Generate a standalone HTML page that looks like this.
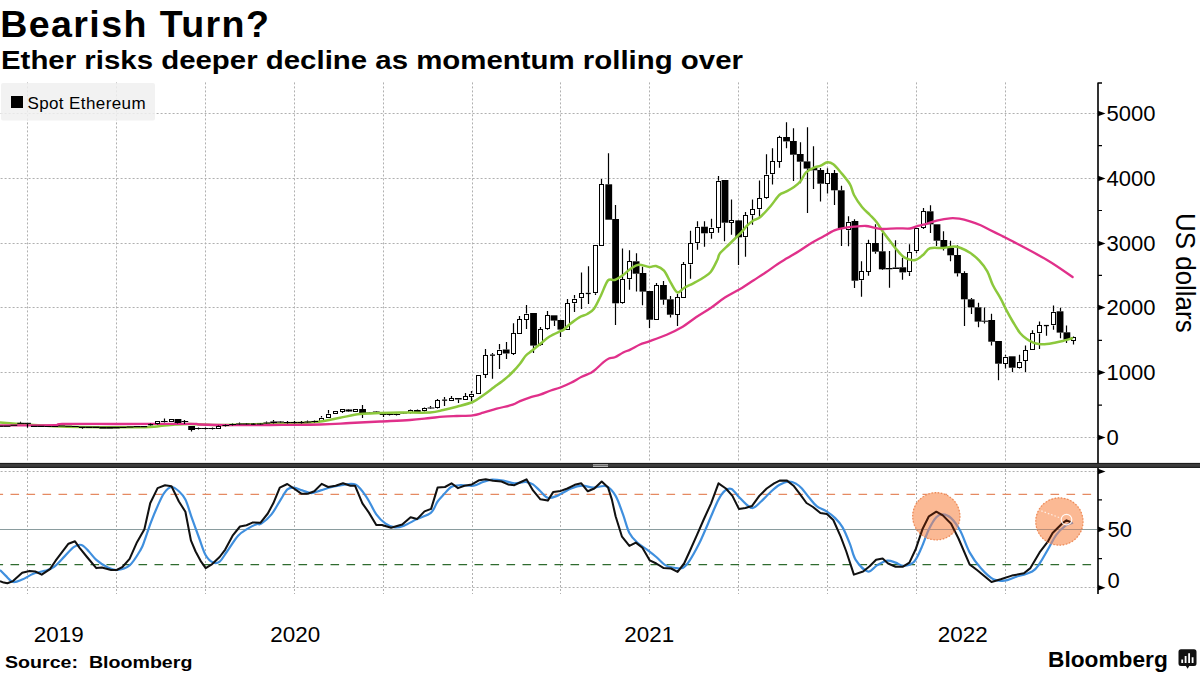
<!DOCTYPE html>
<html><head><meta charset="utf-8"><style>
html,body{margin:0;padding:0;background:#fff;}
body{width:1200px;height:675px;position:relative;overflow:hidden;font-family:"Liberation Sans",sans-serif;color:#000;}
.t{position:absolute;white-space:nowrap;line-height:1;transform-origin:0 0;}
.rot{position:absolute;white-space:nowrap;line-height:1;}
</style></head><body>
<svg width="1200" height="675" viewBox="0 0 1200 675" style="position:absolute;left:0;top:0">
<path d="M27.5 82.4V462M116.5 82.4V462M205.5 82.4V462M294.5 82.4V462M383.5 82.4V462M472.5 82.4V462M560.5 82.4V462M649.5 82.4V462M738.5 82.4V462M827.5 82.4V462M916.5 82.4V462M1005.5 82.4V462" stroke="#b0b0b0" stroke-width="1" stroke-dasharray="2 2" fill="none"/>
<path d="M0 113.5H1097M0 178.5H1097M0 243.5H1097M0 307.5H1097M0 372.5H1097M0 437.5H1097" stroke="#b0b0b0" stroke-width="1" stroke-dasharray="2 2" stroke-dashoffset="3.4" fill="none"/>
<path d="M27.5 469V594M116.5 469V594M205.5 469V594M294.5 469V594M383.5 469V594M472.5 469V594M560.5 469V594M649.5 469V594M738.5 469V594M827.5 469V594M916.5 469V594M1005.5 469V594" stroke="#b0b0b0" stroke-width="1" stroke-dasharray="2 2" fill="none"/>
<path d="M0 471.5H1097M0 587.5H1097" stroke="#b0b0b0" stroke-width="1" stroke-dasharray="2 2" stroke-dashoffset="3.4" fill="none"/>
<rect x="1" y="83" width="154" height="37.5" rx="2" fill="#f0f0f0" fill-opacity="0.85"/>
<path d="M0 494.3H1092" stroke="#e58a62" stroke-width="1.2" stroke-dasharray="8.6 7.4" stroke-dashoffset="5.5" fill="none"/>
<path d="M0 564.6H1092" stroke="#2f6b2f" stroke-width="1.2" stroke-dasharray="8.6 7.4" stroke-dashoffset="5.5" fill="none"/>
<path d="M0 529.5H1097" stroke="#8a9c9e" stroke-width="1" fill="none"/>
<path d="M321.5 416V417.5M321.5 421.5V422M328.5 410V413.5M328.5 417.5V418M335.5 411V411.5M335.5 413.5V414M342.5 409V409.5M342.5 411.5V413M348.5 409V409.5M348.5 411.5V412M355.5 409V409.5M355.5 411.5V412M362.5 405V409M362.5 414V418M369.5 412V412.5M369.5 413.5V414M376.5 411V411.5M376.5 412.5V413M383.5 415V417M389.5 413.5V414M389.5 415V415.5M396.5 413.5V414M396.5 415V415.5M403.5 412V412.5M403.5 413.5V414M410.5 409.5V410M410.5 413V413.5M417.5 409.5V410M417.5 412V412.5M424.5 407.5V408M424.5 411V411.5M430.5 406V407.5M430.5 408.5V409M437.5 399V400M437.5 408.4V409M444.5 397V399.5M444.5 400.5V406M451.5 396V398M451.5 400.5V401M458.5 399.5V403M465.5 393V396M465.5 399.5V400M471.5 391V393.5M471.5 396.5V401M478.5 393.5V394M485.5 349V355M485.5 375V378M492.5 353V354.5M492.5 355.5V378.7M499.5 344V349.5M499.5 355V369M506.5 342V349.5M506.5 353.5V359M513.5 323.3V333M513.5 353.5V355M519.5 316V319.3M526.5 305V313.6M526.5 319.6V329M533.5 345.6V353M540.5 327V329.3M540.5 345.3V346M547.5 311V315.3M547.5 329.3V330M554.5 320.6V326M560.5 329.6V337M567.5 299V303.3M567.5 329.6V330M574.5 295V298.6M574.5 303.3V312M581.5 272.4V293.3M581.5 298.3V309M588.5 266.3V292.8M588.5 293.8V304M595.5 293.3V295M601.5 179V184.3M608.5 153.3V184.3M615.5 205V219M615.5 303.3V325M622.5 248.4V279.3M622.5 303.3V304M629.5 250.3V261.3M629.5 279.3V289.7M636.5 253.3V261.3M636.5 273.7V291.6M642.5 266.7V273M642.5 291.6V305.3M649.5 319.7V328M656.5 283V285.3M656.5 319.6V320M663.5 281V285M663.5 299.7V304.7M670.5 296V299.3M670.5 314.7V317.6M677.5 294V297.3M677.5 314.7V326M683.5 262V264M683.5 297.6V298M690.5 230.7V243.3M690.5 264.4V278.7M697.5 221.3V226.7M697.5 243.3V249.7M704.5 221.3V226.7M704.5 233.3V246.7M711.5 218.7V227.6M711.5 233.3V238.7M718.5 176V180.7M718.5 227.6V232.7M724.5 222.7V241.3M731.5 199.6V220.4M731.5 222.3V234.7M738.5 220V220.4M738.5 237.3V265M745.5 212V215.3M745.5 237.3V256.7M752.5 199.6V209.3M752.5 215.3V224.7M759.5 180.5V198.3M759.5 209.3V218M766.5 154.3V174.5M766.5 198.3V199M772.5 148.3V161.4M772.5 174.3V184.5M779.5 135.7V137.4M779.5 161.7V167.7M786.5 122.3V137M786.5 141.4V148.3M793.5 128.3V141M793.5 154.7V181M800.5 142.3V154M800.5 161.7V183.3M807.5 127.3V161.4M807.5 168.6V213M813.5 146.3V168M813.5 170.3V189M820.5 168V170M820.5 183.7V201.4M827.5 168.3V173.4M827.5 183.7V193.4M834.5 170V173M834.5 190.3V205M841.5 185.7V190.3M841.5 228.3V246M848.5 216.3V221.7M848.5 230.3V246.3M854.5 219.3V221M854.5 280.7V288M861.5 261.3V271.3M861.5 280.3V296.7M868.5 239.7V243.3M868.5 271.6V275.7M875.5 224.3V243M875.5 251.7V253.7M882.5 233V251.3M882.5 269.3V270M889.5 251V268M889.5 269.3V287.7M895.5 240.3V267.5M902.5 257.7V267.3M902.5 272.4V279.7M909.5 244.3V251.7M909.5 272.3V276M916.5 251.3V253.3M923.5 208V211.3M923.5 227.7V229M930.5 205.3V211.3M930.5 224.3V233M936.5 240.7V246M943.5 231.3V240M943.5 247V250.4M950.5 240.7V248M950.5 255.3V261.3M957.5 245.3V255M957.5 273.3V276.5M964.5 271.3V273M964.5 299.3V326M971.5 298V299.3M971.5 307.3V314M978.5 302.7V307.3M978.5 321.6V327.3M984.5 307.5V320.7M984.5 321.6V323.5M991.5 313.7V320M991.5 341.7V345.4M998.5 363.7V380.3M1005.5 354.7V356.6M1005.5 363.7V368.6M1012.5 367.7V372M1019.5 354.7V361.7M1019.5 367.7V368.6M1025.5 345.4V350.3M1025.5 361V372M1032.5 330.3V333.4M1039.5 321.4V325.4M1039.5 333.4V349M1046.5 325.9V335.7M1053.5 305.4V311.7M1053.5 325.4V329.7M1060.5 307.7V311.3M1060.5 332.6V338.3M1066.5 325.4V332.3M1066.5 339.7V343M1073.5 336V336.6M1073.5 341V344.6" stroke="#000" stroke-width="1.2" fill="none"/>
<g fill="#000"><rect x="345.51" y="409.5" width="6.8" height="2"/><rect x="359.18" y="409" width="6.8" height="5"/><rect x="366.02" y="412.5" width="6.8" height="1"/><rect x="372.86" y="411.5" width="6.8" height="1"/><rect x="379.7" y="414" width="6.8" height="1"/><rect x="386.54" y="414" width="6.8" height="1"/><rect x="393.37" y="414" width="6.8" height="1"/><rect x="400.21" y="412.5" width="6.8" height="1"/><rect x="413.89" y="410" width="6.8" height="2"/><rect x="427.56" y="407.5" width="6.8" height="1"/><rect x="442.14" y="399.5" width="5" height="1.3"/><rect x="454.92" y="398" width="6.8" height="1.5"/><rect x="490.01" y="354.5" width="5" height="1.3"/><rect x="502.78" y="349.5" width="6.8" height="4"/><rect x="530.13" y="313" width="6.8" height="32.6"/><rect x="550.65" y="315.3" width="6.8" height="5.3"/><rect x="557.49" y="320" width="6.8" height="9.6"/><rect x="585.74" y="292.8" width="5" height="1.3"/><rect x="605.35" y="184.3" width="6.8" height="35.4"/><rect x="612.19" y="219" width="6.8" height="84.3"/><rect x="632.7" y="261.3" width="6.8" height="12.4"/><rect x="639.54" y="273" width="6.8" height="18.6"/><rect x="646.38" y="291" width="6.8" height="28.7"/><rect x="660.06" y="285" width="6.8" height="14.7"/><rect x="666.89" y="299.3" width="6.8" height="15.4"/><rect x="701.08" y="226.7" width="6.8" height="6.6"/><rect x="721.6" y="180" width="6.8" height="42.7"/><rect x="735.27" y="220.4" width="6.8" height="16.9"/><rect x="783.14" y="137" width="6.8" height="4.4"/><rect x="789.98" y="141" width="6.8" height="13.7"/><rect x="796.82" y="154" width="6.8" height="7.7"/><rect x="803.65" y="161.4" width="6.8" height="7.2"/><rect x="810.49" y="168" width="6.8" height="2.3"/><rect x="817.33" y="170" width="6.8" height="13.7"/><rect x="831.01" y="173" width="6.8" height="17.3"/><rect x="837.84" y="190.3" width="6.8" height="38"/><rect x="851.52" y="221" width="6.8" height="59.7"/><rect x="872.03" y="243" width="6.8" height="8.7"/><rect x="878.87" y="251.3" width="6.8" height="18"/><rect x="885.71" y="268" width="6.8" height="1.3"/><rect x="892.55" y="267.5" width="6.8" height="1.5"/><rect x="899.39" y="267.3" width="6.8" height="5.1"/><rect x="926.74" y="211.3" width="6.8" height="13"/><rect x="933.58" y="224.3" width="6.8" height="16.4"/><rect x="940.41" y="240" width="6.8" height="7"/><rect x="947.25" y="248" width="6.8" height="7.3"/><rect x="954.09" y="255" width="6.8" height="18.3"/><rect x="960.93" y="273" width="6.8" height="26.3"/><rect x="967.77" y="299.3" width="6.8" height="8"/><rect x="974.6" y="307.3" width="6.8" height="14.3"/><rect x="981.44" y="320.7" width="6.8" height="1"/><rect x="988.28" y="320" width="6.8" height="21.7"/><rect x="995.12" y="341" width="6.8" height="22.7"/><rect x="1008.79" y="356.3" width="6.8" height="11.4"/><rect x="1043.88" y="324.9" width="5" height="1.3"/><rect x="1056.66" y="311.3" width="6.8" height="21.3"/><rect x="1063.5" y="332.3" width="6.8" height="7.4"/></g>
<g fill="#fff" stroke="#000" stroke-width="1"><rect x="319.5" y="418.5" width="4" height="3"/><rect x="326.5" y="414.5" width="4" height="3"/><rect x="333.5" y="411.5" width="4" height="2"/><rect x="340.5" y="409.5" width="4" height="2"/><rect x="353.5" y="409.5" width="4" height="2"/><rect x="408.5" y="410.5" width="4" height="2"/><rect x="422.5" y="408.5" width="4" height="2"/><rect x="435.5" y="400.5" width="4" height="7"/><rect x="449.5" y="398.5" width="4" height="2"/><rect x="463.5" y="396.5" width="4" height="3"/><rect x="469.5" y="394.5" width="4" height="2"/><rect x="476.5" y="375.5" width="4" height="18"/><rect x="483.5" y="355.5" width="4" height="19"/><rect x="497.5" y="350.5" width="4" height="4"/><rect x="511.5" y="333.5" width="4" height="20"/><rect x="517.5" y="319.5" width="4" height="14"/><rect x="524.5" y="314.5" width="4" height="5"/><rect x="538.5" y="329.5" width="4" height="15"/><rect x="545.5" y="315.5" width="4" height="13"/><rect x="565.5" y="303.5" width="4" height="26"/><rect x="572.5" y="299.5" width="4" height="3"/><rect x="579.5" y="293.5" width="4" height="4"/><rect x="593.5" y="245.5" width="4" height="47"/><rect x="599.5" y="184.5" width="4" height="61"/><rect x="620.5" y="279.5" width="4" height="23"/><rect x="627.5" y="261.5" width="4" height="17"/><rect x="654.5" y="285.5" width="4" height="34"/><rect x="675.5" y="297.5" width="4" height="17"/><rect x="681.5" y="264.5" width="4" height="33"/><rect x="688.5" y="243.5" width="4" height="20"/><rect x="695.5" y="227.5" width="4" height="15"/><rect x="709.5" y="228.5" width="4" height="4"/><rect x="716.5" y="181.5" width="4" height="46"/><rect x="729.5" y="220.5" width="4" height="2"/><rect x="743.5" y="215.5" width="4" height="21"/><rect x="750.5" y="209.5" width="4" height="5"/><rect x="757.5" y="198.5" width="4" height="10"/><rect x="764.5" y="175.5" width="4" height="22"/><rect x="770.5" y="161.5" width="4" height="12"/><rect x="777.5" y="137.5" width="4" height="24"/><rect x="825.5" y="173.5" width="4" height="10"/><rect x="846.5" y="222.5" width="4" height="7"/><rect x="859.5" y="271.5" width="4" height="8"/><rect x="866.5" y="243.5" width="4" height="28"/><rect x="907.5" y="252.5" width="4" height="19"/><rect x="914.5" y="228.5" width="4" height="22"/><rect x="921.5" y="211.5" width="4" height="16"/><rect x="1003.5" y="357.5" width="4" height="6"/><rect x="1017.5" y="362.5" width="4" height="5"/><rect x="1023.5" y="350.5" width="4" height="10"/><rect x="1030.5" y="333.5" width="4" height="16"/><rect x="1037.5" y="325.5" width="4" height="7"/><rect x="1051.5" y="312.5" width="4" height="12"/><rect x="1071.5" y="337.5" width="4" height="3"/></g>
<path d="M0 422.5C1.67 422.62 6.67 422.95 10 423.2C13.33 423.45 12.5 423.5 20 424C27.5 424.5 45 425.7 55 426.2C65 426.7 69.17 426.82 80 427C90.83 427.18 108.33 427.3 120 427.3C131.67 427.3 143.33 427.22 150 427C156.67 426.78 155.83 426.42 160 426C164.17 425.58 170 424.83 175 424.5C180 424.17 182.5 423.92 190 424C197.5 424.08 210 424.95 220 425C230 425.05 240 424.55 250 424.3C260 424.05 270 423.8 280 423.5C290 423.2 303.33 422.83 310 422.5C316.67 422.17 315 422.28 320 421.5C325 420.72 333.33 419.05 340 417.8C346.67 416.55 353.33 414.8 360 414C366.67 413.2 373.33 413.25 380 413C386.67 412.75 391.67 412.58 400 412.5C408.33 412.42 422.78 412.92 430 412.5C437.22 412.08 438.85 410.97 443.3 410C447.75 409.03 451.8 408.03 456.7 406.7C461.6 405.37 468.27 403.9 472.7 402C477.13 400.1 479.75 397.75 483.3 395.3C486.85 392.85 490.43 389.97 494 387.3C497.57 384.63 501.58 381.85 504.7 379.3C507.82 376.75 510.15 374.58 512.7 372C515.25 369.42 517.8 366.55 520 363.8C522.2 361.05 523.92 357.67 525.9 355.5C527.88 353.33 529.33 352.88 531.9 350.8C534.47 348.72 538.35 345.38 541.3 343C544.25 340.62 546.43 338.47 549.6 336.5C552.77 334.53 558.02 332.28 560.3 331.2C562.58 330.12 561.68 331.2 563.3 330C564.92 328.8 567.33 326.12 570 324C572.67 321.88 576.42 318.97 579.3 317.3C582.18 315.63 584.85 315.43 587.3 314C589.75 312.57 591.77 311.7 594 308.7C596.23 305.7 598.37 300.72 600.7 296C603.03 291.28 605.67 283.07 608 280.4C610.33 277.73 612.25 280.85 614.7 280C617.15 279.15 620.03 277.18 622.7 275.3C625.37 273.42 628.03 270.47 630.7 268.7C633.37 266.93 635.6 264.98 638.7 264.7C641.8 264.42 646.42 266.78 649.3 267C652.18 267.22 653.55 265.38 656 266C658.45 266.62 661.55 267.92 664 270.7C666.45 273.48 668.48 279.08 670.7 282.7C672.92 286.32 675.08 291.52 677.3 292.4C679.52 293.28 681.33 289.52 684 288C686.67 286.48 690.18 284.97 693.3 283.3C696.42 281.63 699.8 279.88 702.7 278C705.6 276.12 708.27 275 710.7 272C713.13 269 715.75 263.12 717.3 260C718.85 256.88 717.88 256.05 720 253.3C722.12 250.55 726.35 247.12 730 243.5C733.65 239.88 739.12 234.52 741.9 231.6C744.68 228.68 744.73 227.88 746.7 226C748.67 224.12 751.48 221.75 753.7 220.3C755.92 218.85 757.17 219.68 760 217.3C762.83 214.92 767.48 209.72 770.7 206C773.92 202.28 776.75 197.38 779.3 195C781.85 192.62 783.55 193.03 786 191.7C788.45 190.37 791.55 188.78 794 187C796.45 185.22 798.7 183.45 800.7 181C802.7 178.55 803.78 174.52 806 172.3C808.22 170.08 811.55 168.8 814 167.7C816.45 166.6 818.48 166.6 820.7 165.7C822.92 164.8 825.2 162.53 827.3 162.3C829.4 162.07 831.07 162.63 833.3 164.3C835.53 165.97 837.92 168.97 840.7 172.3C843.48 175.63 847.78 180.52 850 184.3C852.22 188.08 852 191.22 854 195C856 198.78 859.33 203.67 862 207C864.67 210.33 867.55 212.45 870 215C872.45 217.55 874.48 219.42 876.7 222.3C878.92 225.18 881.08 229.18 883.3 232.3C885.52 235.42 887.77 238.1 890 241C892.23 243.9 894.25 246.92 896.7 249.7C899.15 252.48 901.6 255.98 904.7 257.7C907.8 259.42 912.2 260.5 915.3 260C918.4 259.5 920.85 256.65 923.3 254.7C925.75 252.75 926.67 249.42 930 248.3C933.33 247.18 939.3 248.32 943.3 248C947.3 247.68 951.1 246.4 954 246.4C956.9 246.4 958.03 246.95 960.7 248C963.37 249.05 966.9 250.58 970 252.7C973.1 254.82 976.42 257.6 979.3 260.7C982.18 263.8 985.07 267.3 987.3 271.3C989.53 275.3 990.47 280.13 992.7 284.7C994.93 289.27 998.48 294.6 1000.7 298.7C1002.92 302.8 1003.9 305.33 1006 309.3C1008.1 313.27 1010.97 318.55 1013.3 322.5C1015.63 326.45 1017.77 330.25 1020 333C1022.23 335.75 1024.48 337.4 1026.7 339C1028.92 340.6 1031.3 341.77 1033.3 342.6C1035.3 343.43 1036.47 343.77 1038.7 344C1040.93 344.23 1044.03 344.22 1046.7 344C1049.37 343.78 1052.03 343.2 1054.7 342.7C1057.37 342.2 1059.82 341.73 1062.7 341C1065.58 340.27 1070.45 338.75 1072 338.3" stroke="#8cc83c" stroke-width="2.5" fill="none" stroke-linejoin="round" stroke-linecap="round"/>
<path d="M0 425.5C9.17 425.45 44.67 425.45 55 425.2C65.33 424.95 51.17 424.2 62 424C72.83 423.8 98.67 424.03 120 424C141.33 423.97 176.67 423.72 190 423.8C203.33 423.88 193.33 424.27 200 424.5C206.67 424.73 218.33 425.12 230 425.2C241.67 425.28 255 425.12 270 425C285 424.88 306.67 424.83 320 424.5C333.33 424.17 340 423.5 350 423C360 422.5 370 422 380 421.5C390 421 401.67 420.58 410 420C418.33 419.42 424.45 418.55 430 418C435.55 417.45 438.85 417.03 443.3 416.7C447.75 416.37 451.8 416.23 456.7 416C461.6 415.77 468.27 415.85 472.7 415.3C477.13 414.75 479.3 413.8 483.3 412.7C487.3 411.6 491.8 410.03 496.7 408.7C501.6 407.37 508.82 405.97 512.7 404.7C516.58 403.43 517.2 402.28 520 401.1C522.8 399.92 526.13 398.68 529.5 397.6C532.87 396.52 536.65 395.78 540.2 394.6C543.75 393.42 547.45 391.68 550.8 390.5C554.15 389.32 556.93 388.78 560.3 387.5C563.67 386.22 567.43 384.58 571 382.8C574.57 381.02 578.35 378.48 581.7 376.8C585.05 375.12 588.73 373.98 591.1 372.7C593.47 371.42 593.92 370.78 595.9 369.1C597.88 367.42 600.83 364.37 603 362.6C605.17 360.83 606.92 359.38 608.9 358.5C610.88 357.62 612.52 358.3 614.9 357.3C617.28 356.3 620.63 353.78 623.2 352.5C625.77 351.22 627.5 350.93 630.3 349.6C633.1 348.27 636.83 345.88 640 344.5C643.17 343.12 644.85 342.93 649.3 341.3C653.75 339.67 661.13 337.13 666.7 334.7C672.27 332.27 677.82 329.6 682.7 326.7C687.58 323.8 691.33 320.42 696 317.3C700.67 314.18 705.82 311.33 710.7 308C715.58 304.67 720.1 300.65 725.3 297.3C730.5 293.95 737.17 290.75 741.9 287.9C746.63 285.05 749.75 282.77 753.7 280.2C757.65 277.63 761.65 275.17 765.6 272.5C769.55 269.83 773.85 266.57 777.4 264.2C780.95 261.83 783.33 260.47 786.9 258.3C790.47 256.13 794.85 253.67 798.8 251.2C802.75 248.73 806.65 245.88 810.6 243.5C814.55 241.12 818.53 239.08 822.5 236.9C826.47 234.72 831.15 231.83 834.4 230.4C837.65 228.97 838.73 228.92 842 228.3C845.27 227.68 850 227.08 854 226.7C858 226.32 862.67 225.83 866 226C869.33 226.17 871.12 227.2 874 227.7C876.88 228.2 879.52 228.9 883.3 229C887.08 229.1 892.25 228.38 896.7 228.3C901.15 228.22 906.67 228.83 910 228.5C913.33 228.17 914.48 226.93 916.7 226.3C918.92 225.67 919.97 225.63 923.3 224.7C926.63 223.77 932.25 221.77 936.7 220.7C941.15 219.63 946.23 218.63 950 218.3C953.77 217.97 955.97 218.2 959.3 218.7C962.63 219.2 966.43 220.2 970 221.3C973.57 222.4 977.37 223.85 980.7 225.3C984.03 226.75 986.67 228.33 990 230C993.33 231.67 997.37 233.63 1000.7 235.3C1004.03 236.97 1002.28 235.88 1010 240C1017.72 244.12 1036.57 253.83 1047 260C1057.43 266.17 1068.33 274.17 1072.6 277" stroke="#e0308a" stroke-width="2.3" fill="none" stroke-linejoin="round" stroke-linecap="round"/>
<path d="M20.5 421.8V422.8M27.5 423.9V427.8M82.5 428V428.8M150.5 423.5V424M150.5 425V425.5M157.5 421V421.5M157.5 424V424.5M164.5 418.5V421M164.5 422V422.5M171.5 419V419.5M171.5 421.5V422M177.5 423V423.5M184.5 420V421M184.5 422V424M191.5 430V431.5M198.5 427.5V428M198.5 429V429.5M205.5 427.5V428M205.5 429V429.5M212.5 427.5V428M212.5 429V429.5M218.5 425.5V426M218.5 428V428.5M225.5 424.5V425M225.5 426V426.5M232.5 423.5V424M232.5 425V425.5M239.5 422.5V423.5M239.5 424.5V425M246.5 423V423.5M246.5 424.5V425M253.5 423V423.5M253.5 424.5V425M260.5 423V423.5M260.5 424.5V425M266.5 421.5V422.5M266.5 423.5V424M273.5 420V421.5M273.5 423V423.5M280.5 421V421.5M280.5 422.5V423M287.5 421V422M287.5 423V423.5M294.5 421V422M294.5 423V423.5M301.5 421V422M301.5 423V423.5M307.5 420.5V421.5M307.5 422.5V423M314.5 420.5V421M314.5 422V422.5" stroke="#000" stroke-width="1.2" fill="none"/>
<g fill="#000"><rect x="-3.23" y="425.6" width="6.8" height="1.2"/><rect x="3.61" y="425.6" width="6.8" height="1.2"/><rect x="10.45" y="424.8" width="6.8" height="1"/><rect x="17.28" y="422.8" width="6.8" height="1.1"/><rect x="24.12" y="422.8" width="6.8" height="1.1"/><rect x="30.96" y="425.8" width="6.8" height="1.2"/><rect x="37.8" y="425.8" width="6.8" height="1.2"/><rect x="44.64" y="426" width="6.8" height="1"/><rect x="51.47" y="426" width="6.8" height="1"/><rect x="58.31" y="425.5" width="6.8" height="1"/><rect x="65.15" y="425.8" width="6.8" height="1"/><rect x="71.99" y="426" width="6.8" height="1"/><rect x="78.83" y="426.6" width="6.8" height="1.4"/><rect x="85.66" y="426.6" width="6.8" height="1.4"/><rect x="92.5" y="426.6" width="6.8" height="1.4"/><rect x="99.34" y="426.8" width="6.8" height="1.8"/><rect x="106.18" y="426.8" width="6.8" height="1.8"/><rect x="113.02" y="426.8" width="6.8" height="1.6"/><rect x="119.85" y="426.8" width="6.8" height="1.2"/><rect x="126.69" y="426.4" width="6.8" height="1.2"/><rect x="133.53" y="426" width="6.8" height="1.2"/><rect x="140.37" y="426" width="6.8" height="1.2"/><rect x="148.11" y="424" width="5" height="1.3"/><rect x="160.88" y="421" width="6.8" height="1"/><rect x="174.56" y="419" width="6.8" height="4"/><rect x="181.4" y="421" width="6.8" height="1"/><rect x="188.23" y="426" width="6.8" height="4"/><rect x="195.07" y="428" width="6.8" height="1"/><rect x="201.91" y="428" width="6.8" height="1"/><rect x="208.75" y="428" width="6.8" height="1"/><rect x="222.42" y="425" width="6.8" height="1"/><rect x="229.26" y="424" width="6.8" height="1"/><rect x="236.1" y="423.5" width="6.8" height="1"/><rect x="242.94" y="423.5" width="6.8" height="1"/><rect x="250.68" y="423.5" width="5" height="1.3"/><rect x="256.61" y="423.5" width="6.8" height="1"/><rect x="263.45" y="422.5" width="6.8" height="1"/><rect x="270.29" y="421.5" width="6.8" height="1.5"/><rect x="277.13" y="421.5" width="6.8" height="1"/><rect x="283.97" y="422" width="6.8" height="1"/><rect x="290.8" y="422" width="6.8" height="1"/><rect x="297.64" y="422" width="6.8" height="1"/><rect x="304.48" y="421.5" width="6.8" height="1"/><rect x="311.32" y="421" width="6.8" height="1"/></g>
<g fill="#fff" stroke="#000" stroke-width="1"><rect x="155.5" y="421.5" width="4" height="2"/><rect x="169.5" y="419.5" width="4" height="2"/><rect x="216.5" y="426.5" width="4" height="2"/></g>
<path d="M0 570C0.93 570.93 3.43 573.6 5.6 575.6C7.77 577.6 10.23 581.33 13 582C15.77 582.67 18.82 580.98 22.2 579.6C25.58 578.22 29.6 575.15 33.3 573.7C37 572.25 41 571.98 44.4 570.9C47.8 569.82 50.3 569.67 53.7 567.2C57.1 564.73 61.4 559.48 64.8 556.1C68.2 552.72 71.32 548.75 74.1 546.9C76.88 545.05 79.03 544.23 81.5 545C83.97 545.77 86.43 549.03 88.9 551.5C91.37 553.97 93.22 557.18 96.3 559.8C99.38 562.42 104 565.5 107.4 567.2C110.8 568.9 113 570.3 116.7 570C120.4 569.7 125.6 568.8 129.6 565.4C133.6 562 138.2 553.77 140.7 549.6C143.2 545.43 142.87 545.02 144.6 540.4C146.33 535.78 148.93 527.62 151.1 521.9C153.27 516.18 155.43 510.9 157.6 506.1C159.77 501.3 161.78 496.28 164.1 493.1C166.42 489.92 169.03 487.3 171.5 487C173.97 486.7 176.58 489.2 178.9 491.3C181.22 493.4 183.23 495.13 185.4 499.6C187.57 504.07 189.58 511.62 191.9 518.1C194.22 524.58 197 532.32 199.3 538.5C201.6 544.68 203.4 551.18 205.7 555.2C208 559.22 210.78 561.52 213.1 562.6C215.42 563.68 217.28 563.55 219.6 561.7C221.92 559.85 223.92 555.83 227 551.5C230.08 547.17 234.7 539.47 238.1 535.7C241.5 531.93 244.3 530.83 247.4 528.9C250.5 526.97 254.38 524.97 256.7 524.1C259.02 523.23 258.83 525.32 261.3 523.7C263.77 522.08 268.27 518.42 271.5 514.4C274.73 510.38 278.05 503.77 280.7 499.6C283.35 495.43 285.2 491.4 287.4 489.4C289.6 487.4 291.43 487.43 293.9 487.6C296.37 487.77 299.27 489.48 302.2 490.4C305.13 491.32 308.42 493.1 311.5 493.1C314.58 493.1 317.3 491.42 320.7 490.4C324.1 489.38 328.18 487.93 331.9 487C335.62 486.07 339 485.17 343 484.8C347 484.43 351.9 482.63 355.9 484.8C359.9 486.97 363.6 492.87 367 497.8C370.4 502.73 373.2 510.08 376.3 514.4C379.4 518.72 382.52 521.53 385.6 523.7C388.68 525.87 391.72 527.08 394.8 527.4C397.88 527.72 400.4 526.98 404.1 525.6C407.8 524.22 412.5 521.27 417 519.1C421.5 516.93 427.67 515.53 431.1 512.6C434.53 509.67 435.43 504.58 437.6 501.5C439.77 498.42 441.78 496.57 444.1 494.1C446.42 491.63 448.73 488.18 451.5 486.7C454.27 485.22 457 485.37 460.7 485.2C464.4 485.03 469.98 486.23 473.7 485.7C477.42 485.17 479.92 483.02 483 482C486.08 480.98 488.82 479.82 492.2 479.6C495.58 479.38 499.6 480.08 503.3 480.7C507 481.32 510.68 483.08 514.4 483.3C518.12 483.52 522.5 481.82 525.6 482C528.7 482.18 530.53 482.85 533 484.4C535.47 485.95 537.93 489.07 540.4 491.3C542.87 493.53 545.03 497.03 547.8 497.8C550.57 498.57 553.12 497.45 557 495.9C560.88 494.35 566.9 490.2 571.1 488.5C575.3 486.8 578.5 485.85 582.2 485.7C585.9 485.55 589.28 487.5 593.3 487.6C597.32 487.7 602.58 484.92 606.3 486.3C610.02 487.68 612.82 491.22 615.6 495.9C618.38 500.58 620.7 508.22 623 514.4C625.3 520.58 626.93 528.22 629.4 533C631.87 537.78 634.87 540.33 637.8 543.1C640.73 545.87 643.92 547.28 647 549.6C650.08 551.92 653.2 554.37 656.3 557C659.4 559.63 662.2 563.55 665.6 565.4C669 567.25 673.78 567.7 676.7 568.1C679.62 568.5 680.95 569.03 683.1 567.8C685.25 566.57 686.97 564.65 689.6 560.7C692.23 556.75 696.23 549.33 698.9 544.1C701.57 538.87 703.57 533.93 705.6 529.3C707.63 524.67 708.95 521.25 711.1 516.3C713.25 511.35 716.18 503.87 718.5 499.6C720.82 495.33 722.83 492.48 725 490.7C727.17 488.92 729.18 487.87 731.5 488.9C733.82 489.93 736.43 494.33 738.9 496.9C741.37 499.47 743.98 502.45 746.3 504.3C748.62 506.15 750.33 508.47 752.8 508C755.27 507.53 758.17 504.13 761.1 501.5C764.03 498.87 767.32 494.98 770.4 492.2C773.48 489.42 776.52 486.58 779.6 484.8C782.68 483.02 786.12 481.65 788.9 481.5C791.68 481.35 794.13 482.73 796.3 483.9C798.47 485.07 799.73 486.18 801.9 488.5C804.07 490.82 806.83 494.87 809.3 497.8C811.77 500.73 813.77 503.78 816.7 506.1C819.63 508.42 823.82 509.7 826.9 511.7C829.98 513.7 832.58 515.48 835.2 518.1C837.82 520.72 840.13 523.07 842.6 527.4C845.07 531.73 847.82 538.7 850 544.1C852.18 549.5 852.73 555.23 855.7 559.8C858.67 564.37 864.25 570.57 867.8 571.5C871.35 572.43 873.77 567.2 877 565.4C880.23 563.6 884.1 561.17 887.2 560.7C890.3 560.23 892.82 561.73 895.6 562.6C898.38 563.47 900.82 566.05 903.9 565.9C906.98 565.75 911.17 564.72 914.1 561.7C917.03 558.68 919.03 553.2 921.5 547.8C923.97 542.4 926.43 534.4 928.9 529.3C931.37 524.2 933.98 519.68 936.3 517.2C938.62 514.72 940.33 514.25 942.8 514.4C945.27 514.55 948.17 515.32 951.1 518.1C954.03 520.88 957.32 525.38 960.4 531.1C963.48 536.82 966.22 546.23 969.6 552.4C972.98 558.57 976.75 563.62 980.7 568.1C984.65 572.58 989.35 577.2 993.3 579.3C997.25 581.4 1000.68 581.08 1004.4 580.7C1008.12 580.32 1010.97 578.53 1015.6 577C1020.23 575.47 1028.2 573.75 1032.2 571.5C1036.2 569.25 1036.82 567.45 1039.6 563.5C1042.38 559.55 1046.12 552.58 1048.9 547.8C1051.68 543.02 1053.52 538.5 1056.3 534.8C1059.08 531.1 1062.82 527.6 1065.6 525.6C1068.38 523.6 1071.77 523.27 1073 522.8" stroke="#3f8fde" stroke-width="2.2" fill="none" stroke-linejoin="round"/>
<path d="M0 581.1 L3.7 582.6 L7.4 583.3 L13 581.1 L22.2 572.8 L29.6 570.9 L35.2 571.5 L41.7 574.6 L50 569.1 L55.6 560.7 L68.5 543.7 L75 541.3 L79.6 547.8 L87 557 L96.3 568.1 L101.9 567.6 L111.1 570 L116.7 570 L122.2 567.2 L129.6 558.9 L137 542.2 L144.4 529.3 L150.2 503.3 L157.6 488.1 L165 485.2 L171.5 486.3 L178.9 501.5 L185.4 511.7 L190.9 540.4 L195.6 551.5 L201.1 561.7 L205.7 568.1 L212.2 564.1 L219.6 557 L225.2 549.6 L232.6 535.7 L240 526.5 L246.5 525.2 L253 522.4 L260.4 522.8 L267.8 513.5 L273.3 503.3 L279.8 487.6 L287.3 484 L293.9 488.5 L301.3 493.7 L307.8 493.7 L314.3 491.3 L321.7 483.9 L328.1 487 L335.6 485.7 L343 483.3 L350.4 485.7 L355 485.7 L362.4 503.3 L368.9 512.6 L376.3 525 L381.9 525 L391.1 527.8 L402.2 524.6 L410.6 517.2 L417 519.1 L424.5 511.4 L431.1 508.9 L437.6 487.6 L445 487 L451.5 483.3 L458 488.1 L464.4 485.7 L471.9 484.4 L479.3 480.2 L485.7 479.3 L493.1 480.7 L501.5 481.5 L508 484.4 L514.4 485.2 L520.9 482 L526.5 479.3 L533 490.4 L540.4 499.3 L547.8 500.6 L553.3 491.9 L560.7 490.9 L567.4 488.5 L574.8 484.8 L581.3 483.3 L587.8 491.3 L594.3 488.5 L601.7 481.5 L608.1 487.6 L611.9 499.6 L615.6 516.3 L622 536.7 L629.4 545.9 L635.9 542.6 L642.4 547.8 L649.8 560.4 L656.3 563.5 L663.7 568.1 L671.1 568.5 L677.6 571.9 L684.1 563.5 L689.6 551.5 L697 534.8 L703.5 520 L711.1 503.3 L718.5 483.3 L725.9 488.5 L732.4 495.9 L738.9 508.9 L745.4 508 L751.9 506.1 L759.3 495.9 L766.7 488.5 L774.1 483.3 L779.6 480.6 L787 480.6 L793.5 485.7 L800 494.1 L806.5 503 L813 507 L820.4 513 L826.9 514.1 L833.3 520 L840.7 536.7 L846.3 551.5 L853.9 574.6 L863.1 571.5 L869.6 566.3 L876.1 559.8 L882.6 558.5 L888.1 563.5 L895.6 566.7 L903 566.7 L909.4 562.6 L915.9 548.7 L922.4 529.3 L928.9 516.3 L936.3 511.7 L942.8 515.4 L951.1 523.7 L958.5 538.5 L969.6 564.4 L977 570 L991.5 582 L1000.7 579.3 L1011.9 575.6 L1023.9 573.3 L1030.4 568.1 L1039.6 552.4 L1048 541.3 L1052.6 533 L1061.9 523.7 L1066.5 520.4 L1071.1 522.2" stroke="#111" stroke-width="2.05" fill="none" stroke-linejoin="round"/>
<defs><clipPath id="cc"><circle cx="936.3" cy="516.3" r="24"/><circle cx="1059.4" cy="521.5" r="24"/></clipPath></defs>
<circle cx="936.3" cy="516.3" r="24" fill="#fbb994"/>
<circle cx="936.3" cy="516.3" r="23.6" fill="none" stroke="#ec8a58" stroke-width="1.3" stroke-dasharray="1.4 1.8"/>
<circle cx="1059.4" cy="521.5" r="24" fill="#fbb994"/>
<circle cx="1059.4" cy="521.5" r="23.6" fill="none" stroke="#ec8a58" stroke-width="1.3" stroke-dasharray="1.4 1.8"/>
<g clip-path="url(#cc)">
<path d="M900 529.5H1097" stroke="#b98d78" stroke-width="1" fill="none"/>
<path d="M0 570C0.93 570.93 3.43 573.6 5.6 575.6C7.77 577.6 10.23 581.33 13 582C15.77 582.67 18.82 580.98 22.2 579.6C25.58 578.22 29.6 575.15 33.3 573.7C37 572.25 41 571.98 44.4 570.9C47.8 569.82 50.3 569.67 53.7 567.2C57.1 564.73 61.4 559.48 64.8 556.1C68.2 552.72 71.32 548.75 74.1 546.9C76.88 545.05 79.03 544.23 81.5 545C83.97 545.77 86.43 549.03 88.9 551.5C91.37 553.97 93.22 557.18 96.3 559.8C99.38 562.42 104 565.5 107.4 567.2C110.8 568.9 113 570.3 116.7 570C120.4 569.7 125.6 568.8 129.6 565.4C133.6 562 138.2 553.77 140.7 549.6C143.2 545.43 142.87 545.02 144.6 540.4C146.33 535.78 148.93 527.62 151.1 521.9C153.27 516.18 155.43 510.9 157.6 506.1C159.77 501.3 161.78 496.28 164.1 493.1C166.42 489.92 169.03 487.3 171.5 487C173.97 486.7 176.58 489.2 178.9 491.3C181.22 493.4 183.23 495.13 185.4 499.6C187.57 504.07 189.58 511.62 191.9 518.1C194.22 524.58 197 532.32 199.3 538.5C201.6 544.68 203.4 551.18 205.7 555.2C208 559.22 210.78 561.52 213.1 562.6C215.42 563.68 217.28 563.55 219.6 561.7C221.92 559.85 223.92 555.83 227 551.5C230.08 547.17 234.7 539.47 238.1 535.7C241.5 531.93 244.3 530.83 247.4 528.9C250.5 526.97 254.38 524.97 256.7 524.1C259.02 523.23 258.83 525.32 261.3 523.7C263.77 522.08 268.27 518.42 271.5 514.4C274.73 510.38 278.05 503.77 280.7 499.6C283.35 495.43 285.2 491.4 287.4 489.4C289.6 487.4 291.43 487.43 293.9 487.6C296.37 487.77 299.27 489.48 302.2 490.4C305.13 491.32 308.42 493.1 311.5 493.1C314.58 493.1 317.3 491.42 320.7 490.4C324.1 489.38 328.18 487.93 331.9 487C335.62 486.07 339 485.17 343 484.8C347 484.43 351.9 482.63 355.9 484.8C359.9 486.97 363.6 492.87 367 497.8C370.4 502.73 373.2 510.08 376.3 514.4C379.4 518.72 382.52 521.53 385.6 523.7C388.68 525.87 391.72 527.08 394.8 527.4C397.88 527.72 400.4 526.98 404.1 525.6C407.8 524.22 412.5 521.27 417 519.1C421.5 516.93 427.67 515.53 431.1 512.6C434.53 509.67 435.43 504.58 437.6 501.5C439.77 498.42 441.78 496.57 444.1 494.1C446.42 491.63 448.73 488.18 451.5 486.7C454.27 485.22 457 485.37 460.7 485.2C464.4 485.03 469.98 486.23 473.7 485.7C477.42 485.17 479.92 483.02 483 482C486.08 480.98 488.82 479.82 492.2 479.6C495.58 479.38 499.6 480.08 503.3 480.7C507 481.32 510.68 483.08 514.4 483.3C518.12 483.52 522.5 481.82 525.6 482C528.7 482.18 530.53 482.85 533 484.4C535.47 485.95 537.93 489.07 540.4 491.3C542.87 493.53 545.03 497.03 547.8 497.8C550.57 498.57 553.12 497.45 557 495.9C560.88 494.35 566.9 490.2 571.1 488.5C575.3 486.8 578.5 485.85 582.2 485.7C585.9 485.55 589.28 487.5 593.3 487.6C597.32 487.7 602.58 484.92 606.3 486.3C610.02 487.68 612.82 491.22 615.6 495.9C618.38 500.58 620.7 508.22 623 514.4C625.3 520.58 626.93 528.22 629.4 533C631.87 537.78 634.87 540.33 637.8 543.1C640.73 545.87 643.92 547.28 647 549.6C650.08 551.92 653.2 554.37 656.3 557C659.4 559.63 662.2 563.55 665.6 565.4C669 567.25 673.78 567.7 676.7 568.1C679.62 568.5 680.95 569.03 683.1 567.8C685.25 566.57 686.97 564.65 689.6 560.7C692.23 556.75 696.23 549.33 698.9 544.1C701.57 538.87 703.57 533.93 705.6 529.3C707.63 524.67 708.95 521.25 711.1 516.3C713.25 511.35 716.18 503.87 718.5 499.6C720.82 495.33 722.83 492.48 725 490.7C727.17 488.92 729.18 487.87 731.5 488.9C733.82 489.93 736.43 494.33 738.9 496.9C741.37 499.47 743.98 502.45 746.3 504.3C748.62 506.15 750.33 508.47 752.8 508C755.27 507.53 758.17 504.13 761.1 501.5C764.03 498.87 767.32 494.98 770.4 492.2C773.48 489.42 776.52 486.58 779.6 484.8C782.68 483.02 786.12 481.65 788.9 481.5C791.68 481.35 794.13 482.73 796.3 483.9C798.47 485.07 799.73 486.18 801.9 488.5C804.07 490.82 806.83 494.87 809.3 497.8C811.77 500.73 813.77 503.78 816.7 506.1C819.63 508.42 823.82 509.7 826.9 511.7C829.98 513.7 832.58 515.48 835.2 518.1C837.82 520.72 840.13 523.07 842.6 527.4C845.07 531.73 847.82 538.7 850 544.1C852.18 549.5 852.73 555.23 855.7 559.8C858.67 564.37 864.25 570.57 867.8 571.5C871.35 572.43 873.77 567.2 877 565.4C880.23 563.6 884.1 561.17 887.2 560.7C890.3 560.23 892.82 561.73 895.6 562.6C898.38 563.47 900.82 566.05 903.9 565.9C906.98 565.75 911.17 564.72 914.1 561.7C917.03 558.68 919.03 553.2 921.5 547.8C923.97 542.4 926.43 534.4 928.9 529.3C931.37 524.2 933.98 519.68 936.3 517.2C938.62 514.72 940.33 514.25 942.8 514.4C945.27 514.55 948.17 515.32 951.1 518.1C954.03 520.88 957.32 525.38 960.4 531.1C963.48 536.82 966.22 546.23 969.6 552.4C972.98 558.57 976.75 563.62 980.7 568.1C984.65 572.58 989.35 577.2 993.3 579.3C997.25 581.4 1000.68 581.08 1004.4 580.7C1008.12 580.32 1010.97 578.53 1015.6 577C1020.23 575.47 1028.2 573.75 1032.2 571.5C1036.2 569.25 1036.82 567.45 1039.6 563.5C1042.38 559.55 1046.12 552.58 1048.9 547.8C1051.68 543.02 1053.52 538.5 1056.3 534.8C1059.08 531.1 1062.82 527.6 1065.6 525.6C1068.38 523.6 1071.77 523.27 1073 522.8" stroke="#a48c98" stroke-width="2.2" fill="none" stroke-linejoin="round"/>
<path d="M0 581.1 L3.7 582.6 L7.4 583.3 L13 581.1 L22.2 572.8 L29.6 570.9 L35.2 571.5 L41.7 574.6 L50 569.1 L55.6 560.7 L68.5 543.7 L75 541.3 L79.6 547.8 L87 557 L96.3 568.1 L101.9 567.6 L111.1 570 L116.7 570 L122.2 567.2 L129.6 558.9 L137 542.2 L144.4 529.3 L150.2 503.3 L157.6 488.1 L165 485.2 L171.5 486.3 L178.9 501.5 L185.4 511.7 L190.9 540.4 L195.6 551.5 L201.1 561.7 L205.7 568.1 L212.2 564.1 L219.6 557 L225.2 549.6 L232.6 535.7 L240 526.5 L246.5 525.2 L253 522.4 L260.4 522.8 L267.8 513.5 L273.3 503.3 L279.8 487.6 L287.3 484 L293.9 488.5 L301.3 493.7 L307.8 493.7 L314.3 491.3 L321.7 483.9 L328.1 487 L335.6 485.7 L343 483.3 L350.4 485.7 L355 485.7 L362.4 503.3 L368.9 512.6 L376.3 525 L381.9 525 L391.1 527.8 L402.2 524.6 L410.6 517.2 L417 519.1 L424.5 511.4 L431.1 508.9 L437.6 487.6 L445 487 L451.5 483.3 L458 488.1 L464.4 485.7 L471.9 484.4 L479.3 480.2 L485.7 479.3 L493.1 480.7 L501.5 481.5 L508 484.4 L514.4 485.2 L520.9 482 L526.5 479.3 L533 490.4 L540.4 499.3 L547.8 500.6 L553.3 491.9 L560.7 490.9 L567.4 488.5 L574.8 484.8 L581.3 483.3 L587.8 491.3 L594.3 488.5 L601.7 481.5 L608.1 487.6 L611.9 499.6 L615.6 516.3 L622 536.7 L629.4 545.9 L635.9 542.6 L642.4 547.8 L649.8 560.4 L656.3 563.5 L663.7 568.1 L671.1 568.5 L677.6 571.9 L684.1 563.5 L689.6 551.5 L697 534.8 L703.5 520 L711.1 503.3 L718.5 483.3 L725.9 488.5 L732.4 495.9 L738.9 508.9 L745.4 508 L751.9 506.1 L759.3 495.9 L766.7 488.5 L774.1 483.3 L779.6 480.6 L787 480.6 L793.5 485.7 L800 494.1 L806.5 503 L813 507 L820.4 513 L826.9 514.1 L833.3 520 L840.7 536.7 L846.3 551.5 L853.9 574.6 L863.1 571.5 L869.6 566.3 L876.1 559.8 L882.6 558.5 L888.1 563.5 L895.6 566.7 L903 566.7 L909.4 562.6 L915.9 548.7 L922.4 529.3 L928.9 516.3 L936.3 511.7 L942.8 515.4 L951.1 523.7 L958.5 538.5 L969.6 564.4 L977 570 L991.5 582 L1000.7 579.3 L1011.9 575.6 L1023.9 573.3 L1030.4 568.1 L1039.6 552.4 L1048 541.3 L1052.6 533 L1061.9 523.7 L1066.5 520.4 L1071.1 522.2" stroke="#40190a" stroke-width="2.05" fill="none" stroke-linejoin="round"/>
</g>
<path d="M1038 509.7L1061.5 518.4" stroke="#fff" stroke-width="1.2" stroke-dasharray="1.5 2" fill="none" opacity="0.75"/>
<circle cx="1066.5" cy="519.6" r="5.3" fill="none" stroke="#fff" stroke-width="1.2" opacity="0.9"/>
<rect x="0" y="463" width="1200" height="5" fill="#3c3c3c"/>
<path d="M0 463.4H1200M0 467.3H1200" stroke="#1a1a1a" stroke-width="1"/>
<path d="M593 464.8H608M593 466.4H608" stroke="#d0d0d0" stroke-width="0.9"/>
<path d="M1098 82.5V463M1098 468V594M1098 83H1102" stroke="#000" stroke-width="1.6" fill="none"/>
<g fill="#000"><path d="M1098 110.7L1105.5 113.5L1098 116.3Z"/><path d="M1098 175.7L1105.5 178.5L1098 181.3Z"/><path d="M1098 240.7L1105.5 243.5L1098 246.3Z"/><path d="M1098 304.7L1105.5 307.5L1098 310.3Z"/><path d="M1098 369.7L1105.5 372.5L1098 375.3Z"/><path d="M1098 434.7L1105.5 437.5L1098 440.3Z"/><path d="M1098 468.7L1105.5 471.5L1098 474.3Z"/><path d="M1098 526.6L1105.5 529.4L1098 532.2Z"/><path d="M1098 585L1105.5 587.8L1098 590.6Z"/></g>
<path d="M1098 145.6H1102M1098 210.5H1102M1098 275.4H1102M1098 340.3H1102M1098 405.2H1102M1098 499.9H1102M1098 558.6H1102" stroke="#000" stroke-width="1.2"/>
<rect x="11" y="96" width="12" height="12" fill="#000"/>
<path d="M1181 649.3H1194Q1196.5 649.3 1196.5 651.8V663.5Q1196.5 666 1194 666H1189.3L1187.6 668.8L1185.9 666H1181Q1178.5 666 1178.5 663.5V651.8Q1178.5 649.3 1181 649.3Z" fill="#111"/>
<path d="M1182.2 659.5V663M1185.6 656V663M1189.1 653.2V663M1192.6 657.2V663" stroke="#fff" stroke-width="1.8"/>
</svg>
<div class="t" style="left:0.2px;top:5.87px;font-size:37.6px;font-weight:700;transform:scaleX(1.0);letter-spacing:1.4px;">Bearish Turn?</div>
<div class="t" style="left:0.5px;top:47.88px;font-size:25.6px;font-weight:700;transform:scaleX(1.149);">Ether risks deeper decline as momentum rolling over</div>
<div class="t" style="left:27.4px;top:95.21px;font-size:17px;font-weight:400;transform:scaleX(1.0);letter-spacing:0.4px;">Spot Ethereum</div>
<div class="t" style="left:1106.6px;top:103.28px;font-size:22px;font-weight:400;transform:scaleX(1.0);">5000</div>
<div class="t" style="left:1106.6px;top:168.28px;font-size:22px;font-weight:400;transform:scaleX(1.0);">4000</div>
<div class="t" style="left:1106.6px;top:233.28px;font-size:22px;font-weight:400;transform:scaleX(1.0);">3000</div>
<div class="t" style="left:1106.6px;top:297.28px;font-size:22px;font-weight:400;transform:scaleX(1.0);">2000</div>
<div class="t" style="left:1106.6px;top:362.28px;font-size:22px;font-weight:400;transform:scaleX(1.0);">1000</div>
<div class="t" style="left:1106.6px;top:427.28px;font-size:22px;font-weight:400;transform:scaleX(1.0);">0</div>
<div class="t" style="left:1107.4px;top:519.28px;font-size:22px;font-weight:400;transform:scaleX(1.0);">50</div>
<div class="t" style="left:1107.4px;top:570.18px;font-size:22px;font-weight:400;transform:scaleX(1.0);">0</div>
<div class="t" style="left:33.8px;top:623.84px;font-size:22.4px;font-weight:400;transform:scaleX(1.0);">2019</div>
<div class="t" style="left:270.3px;top:623.84px;font-size:22.4px;font-weight:400;transform:scaleX(1.0);">2020</div>
<div class="t" style="left:624.3px;top:623.84px;font-size:22.4px;font-weight:400;transform:scaleX(1.0);">2021</div>
<div class="t" style="left:937.8px;top:623.84px;font-size:22.4px;font-weight:400;transform:scaleX(1.0);">2022</div>
<div class="t" style="left:4.6px;top:654.66px;font-size:16.7px;font-weight:700;transform:scaleX(1.175);">Source:&nbsp; Bloomberg</div>
<div class="t" style="left:1048px;top:647.88px;font-size:22.7px;font-weight:700;transform:scaleX(1.0);">Bloomberg</div>
<div class="rot" style="left:1199.1px;top:213px;font-size:27.6px;transform-origin:0 0;transform:rotate(90deg) scaleX(0.94);">US dollars</div>
</body></html>
